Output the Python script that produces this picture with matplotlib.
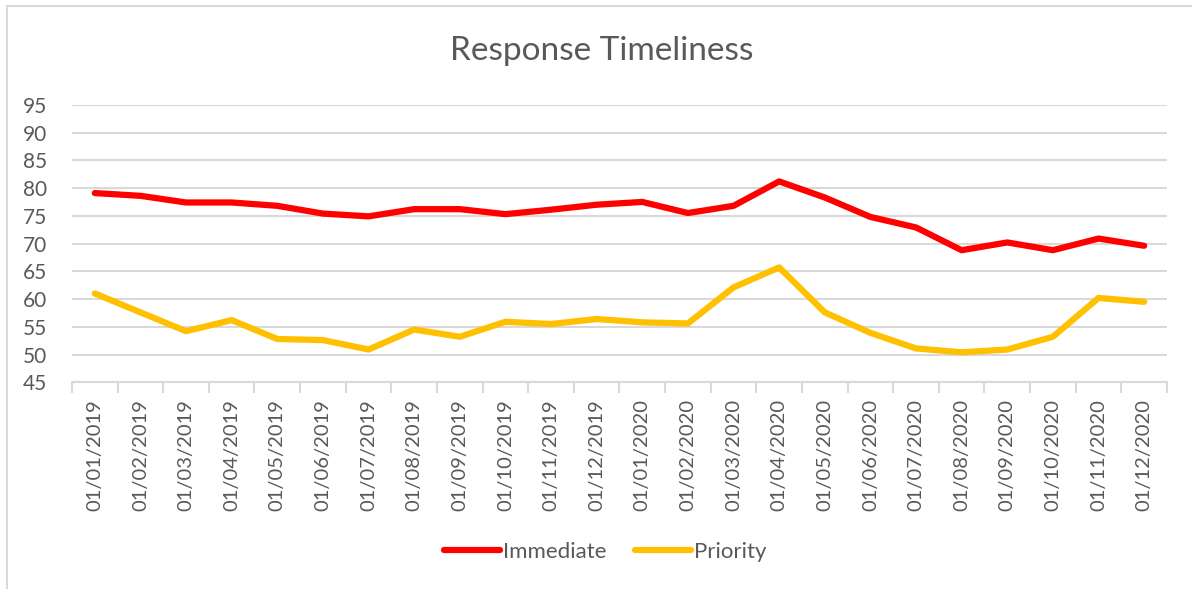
import numpy as np
import matplotlib
matplotlib.use('Agg')
import matplotlib.pyplot as plt
from matplotlib.lines import Line2D

# Data
months = ['01/01/2019', '01/02/2019', '01/03/2019', '01/04/2019', '01/05/2019',
          '01/06/2019', '01/07/2019', '01/08/2019', '01/09/2019', '01/10/2019',
          '01/11/2019', '01/12/2019', '01/01/2020', '01/02/2020', '01/03/2020',
          '01/04/2020', '01/05/2020', '01/06/2020', '01/07/2020', '01/08/2020',
          '01/09/2020', '01/10/2020', '01/11/2020', '01/12/2020']
immediate = [79.1, 78.6, 77.4, 77.4, 76.8, 75.4, 74.9, 76.2, 76.2, 75.3,
             76.1, 77.0, 77.5, 75.5, 76.8, 81.2, 78.3, 74.8, 72.9, 68.8,
             70.2, 68.8, 70.9, 69.6]
priority = [61.0, 57.6, 54.2, 56.2, 52.8, 52.6, 50.9, 54.5, 53.2, 55.9,
            55.5, 56.4, 55.8, 55.6, 62.1, 65.7, 57.6, 53.9, 51.1, 50.4,
            50.9, 53.2, 60.2, 59.5]
yticks = [45, 50, 55, 60, 65, 70, 75, 80, 85, 90, 95]

text_col = '#595959'
grid_col = '#d9d9d9'
plt.rcParams['font.family'] = ['Lato', 'DejaVu Sans']

W, H = 1192, 589
fig = plt.figure(figsize=(W / 100, H / 100), dpi=100)

# chart frame (only top and left edges visible in the reference crop)
fig.add_artist(Line2D([7 / W, 1], [1 - 6 / H, 1 - 6 / H], color=grid_col, lw=1.5))
fig.add_artist(Line2D([7 / W, 7 / W], [0, 1 - 6 / H], color=grid_col, lw=1.5))

ax = fig.add_axes([0.0604, 0.351, 0.9186, 0.471])

x = np.arange(len(months))
ax.plot(x, immediate, color='#ff0000', lw=4.5, solid_capstyle='round',
        solid_joinstyle='round', label='Immediate', zorder=3)
ax.plot(x, priority, color='#ffc000', lw=4.5, solid_capstyle='round',
        solid_joinstyle='round', label='Priority', zorder=3)

ax.set_xlim(-0.5, len(months) - 0.5)
ax.set_ylim(45, 95)
ax.set_yticks(yticks)
ax.grid(axis='y', color=grid_col, lw=1.5, zorder=0)

ax.set_xticks(x)
ax.set_xticklabels(months, rotation=90)
ax.set_xticks(np.arange(-0.5, len(months)), minor=True)
ax.tick_params(axis='x', which='major', length=0, pad=12, labelsize=14.5, labelcolor=text_col)
ax.tick_params(axis='x', which='minor', length=8, color=grid_col, width=1.5)
ax.tick_params(axis='y', length=0, labelsize=15, labelcolor=text_col, pad=18)

for s in ['top', 'right', 'left']:
    ax.spines[s].set_visible(False)
ax.spines['bottom'].set_color(grid_col)
ax.spines['bottom'].set_linewidth(1.5)

fig.text(0.505, 0.913, 'Response Timeliness', ha='center', va='center',
         fontsize=24, color=text_col)

leg = fig.legend(loc='center', bbox_to_anchor=(0.508, 0.063), ncol=2,
                 frameon=False, fontsize=16, handlelength=2.5,
                 handletextpad=0.15, columnspacing=1.3)
for t in leg.get_texts():
    t.set_color(text_col)

fig.savefig('out.png', dpi=100)
